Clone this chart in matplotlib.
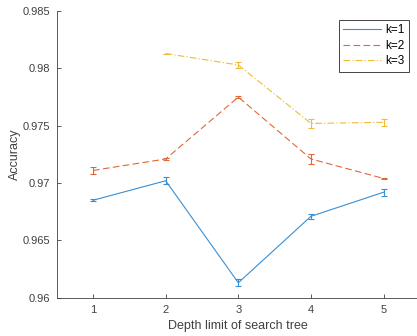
#Accuracy vs depth limit of search tree for k=1,2,3 (MATLAB-style look)
import numpy as np
import matplotlib.pyplot as plt
from matplotlib.lines import Line2D

depth = [1, 2, 3, 4, 5]
acc_k1 = [0.9685, 0.9702, 0.9613, 0.9671, 0.9692]
err_k1 = [0.0001, 0.0003, 0.0003, 0.0002, 0.0003]
acc_k2 = [0.9711, 0.9721, 0.9775, 0.9721, 0.9704]
err_k2 = [0.0003, 0.0001, 0.0001, 0.0004, 0.00005]
depth_k3 = [2, 3, 4, 5]
acc_k3 = [0.9813, 0.9803, 0.9752, 0.9753]
err_k3 = [0.0, 0.0003, 0.0004, 0.0003]
yticks = [0.96, 0.965, 0.97, 0.975, 0.98, 0.985]
ytick_labels = ["0.96", "0.965", "0.97", "0.975", "0.98", "0.985"]

plt.rcParams.update({"font.family": "sans-serif",
    "font.sans-serif": ["Liberation Sans", "DejaVu Sans"],
    "font.size": 8, "axes.linewidth": 0.6})

GRAY = "#404040"
BLUE = "#3A8FD3"
ORANGE = "#E0673A"
YELLOW = "#F0BC33"
DASH = (0, (6, 3))
DASHDOT = (0, (6, 2, 1, 2))

fig = plt.figure(figsize=(4.17, 3.36), dpi=100)
ax = fig.add_axes([0.136, 0.114, 0.871, 0.853])

kw = dict(lw=0.8, capsize=2.2, elinewidth=0.8, capthick=0.8)
ax.errorbar(depth, acc_k1, yerr=err_k1, color=BLUE, ls="-", **kw)
ax.errorbar(depth, acc_k2, yerr=err_k2, color=ORANGE, ls=DASH, **kw)
ax.errorbar(depth_k3, acc_k3, yerr=err_k3, color=YELLOW, ls=DASHDOT, **kw)

ax.set_xlim(0.5, 5.5)
ax.set_ylim(0.96, 0.985)
ax.set_xticks(depth)
ax.set_yticks(yticks)
ax.set_yticklabels(ytick_labels)
ax.set_xlabel("Depth limit of search tree", fontsize=9, color=GRAY)
ax.set_ylabel("Accuracy", fontsize=9, color=GRAY, labelpad=1)
ax.spines[["top", "right"]].set_visible(False)
for s in ("left", "bottom"):
    ax.spines[s].set_color(GRAY)
ax.tick_params(direction="in", length=3, width=0.6, colors=GRAY, labelcolor=GRAY, pad=5)

handles = [Line2D([], [], color=BLUE, lw=0.8, ls="-"),
           Line2D([], [], color=ORANGE, lw=0.8, ls=DASH),
           Line2D([], [], color=YELLOW, lw=0.8, ls=DASHDOT)]
leg = ax.legend(handles, ["k=1", "k=2", "k=3"], loc="upper right",
                bbox_to_anchor=(0.97, 0.968), fontsize=8.5,
                fancybox=False, framealpha=1, handlelength=3.2,
                borderpad=0.35, labelspacing=0.3, handletextpad=0.4,
                borderaxespad=0)
leg.get_frame().set_edgecolor("#262626")
leg.get_frame().set_linewidth(0.6)

fig.savefig("out.png", dpi=100)
